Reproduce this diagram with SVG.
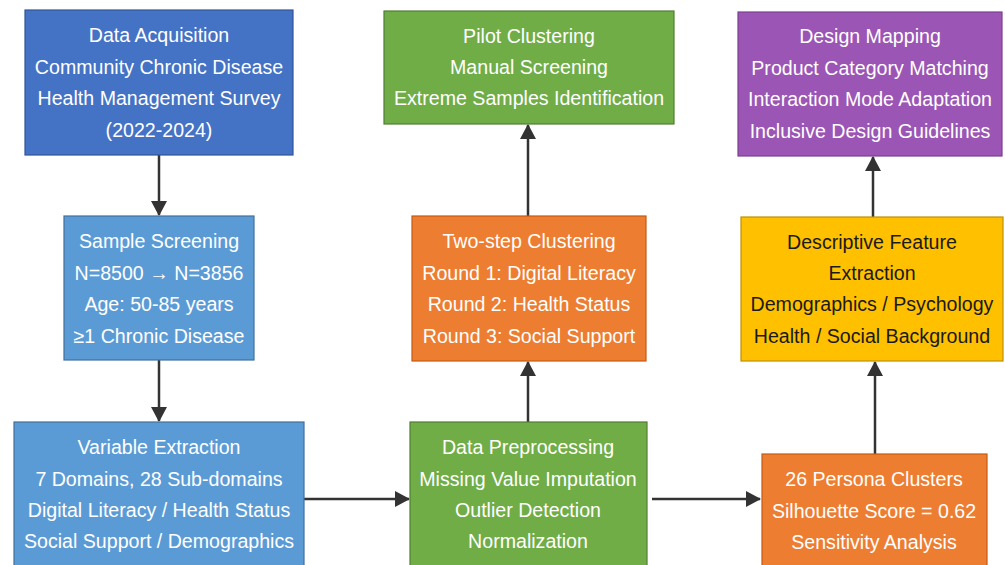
<svg xmlns="http://www.w3.org/2000/svg" width="1005" height="565" viewBox="0 0 1005 565">
  <style>
    .box { stroke-width: 1.2; }
    .t { font-family: "Liberation Sans", Arial, sans-serif; font-size: 19.6px; text-anchor: middle; fill: #ffffff; }
    .dark { fill: #1a1a1a; }
    .edge { stroke: #333333; stroke-width: 2.5; fill: none; marker-end: url(#arrow); }
  </style>
  <defs>
    <marker id="arrow" viewBox="0 0 15 16" refX="14" refY="8" markerWidth="15" markerHeight="16" markerUnits="userSpaceOnUse" orient="auto">
      <path d="M0,0 L15,8 L0,16 Z" fill="#333333"/>
    </marker>
  </defs>
  <rect width="1005" height="565" fill="#ffffff"/>

  <g id="connectors">
    <line class="edge" x1="159" y1="155" x2="159" y2="215"/>
    <line class="edge" x1="159" y1="360" x2="159" y2="421"/>
    <line class="edge" x1="304" y1="499" x2="409" y2="499"/>
    <line class="edge" x1="528" y1="422" x2="528" y2="362"/>
    <line class="edge" x1="528" y1="216" x2="528" y2="125"/>
    <line class="edge" x1="652" y1="499" x2="760" y2="499"/>
    <line class="edge" x1="875" y1="454" x2="875" y2="362"/>
    <line class="edge" x1="873" y1="217" x2="873" y2="157"/>
  </g>

  <g id="data-acquisition">
    <rect class="box" x="25" y="10" width="268" height="145" fill="#4472C4" stroke="#2F5597"/>
    <text class="t" x="159" y="42">Data Acquisition</text>
    <text class="t" x="159" y="74">Community Chronic Disease</text>
    <text class="t" x="159" y="105">Health Management Survey</text>
    <text class="t" x="159" y="137">(2022-2024)</text>
  </g>

  <g id="sample-screening">
    <rect class="box" x="64" y="216" width="190" height="144" fill="#5B9BD5" stroke="#41719C"/>
    <text class="t" x="159" y="248">Sample Screening</text>
    <text class="t" x="159" y="280">N=8500 → N=3856</text>
    <text class="t" x="159" y="311">Age: 50-85 years</text>
    <text class="t" x="159" y="343">≥1 Chronic Disease</text>
  </g>

  <g id="variable-extraction">
    <rect class="box" x="14" y="422" width="290" height="150" fill="#5B9BD5" stroke="#41719C"/>
    <text class="t" x="159" y="454">Variable Extraction</text>
    <text class="t" x="159" y="486">7 Domains, 28 Sub-domains</text>
    <text class="t" x="159" y="517">Digital Literacy / Health Status</text>
    <text class="t" x="159" y="548">Social Support / Demographics</text>
  </g>

  <g id="data-preprocessing">
    <rect class="box" x="410" y="422" width="237" height="150" fill="#70AD47" stroke="#507E32"/>
    <text class="t" x="528" y="454">Data Preprocessing</text>
    <text class="t" x="528" y="486">Missing Value Imputation</text>
    <text class="t" x="528" y="517">Outlier Detection</text>
    <text class="t" x="528" y="548">Normalization</text>
  </g>

  <g id="two-step-clustering">
    <rect class="box" x="412" y="216" width="234" height="145" fill="#ED7D31" stroke="#C55A11"/>
    <text class="t" x="529" y="248">Two-step Clustering</text>
    <text class="t" x="529" y="280">Round 1: Digital Literacy</text>
    <text class="t" x="529" y="311">Round 2: Health Status</text>
    <text class="t" x="529" y="343">Round 3: Social Support</text>
  </g>

  <g id="pilot-clustering">
    <rect class="box" x="384" y="11" width="290" height="113" fill="#70AD47" stroke="#507E32"/>
    <text class="t" x="529" y="43">Pilot Clustering</text>
    <text class="t" x="529" y="74">Manual Screening</text>
    <text class="t" x="529" y="105">Extreme Samples Identification</text>
  </g>

  <g id="persona-clusters">
    <rect class="box" x="762" y="454" width="225" height="118" fill="#ED7D31" stroke="#C55A11"/>
    <text class="t" x="874" y="486">26 Persona Clusters</text>
    <text class="t" x="874" y="518">Silhouette Score = 0.62</text>
    <text class="t" x="874" y="549">Sensitivity Analysis</text>
  </g>

  <g id="descriptive-feature-extraction">
    <rect class="box" x="741" y="217" width="262" height="144" fill="#FFC000" stroke="#BF9000"/>
    <text class="t dark" x="872" y="249">Descriptive Feature</text>
    <text class="t dark" x="872" y="280">Extraction</text>
    <text class="t dark" x="872" y="311">Demographics / Psychology</text>
    <text class="t dark" x="872" y="343">Health / Social Background</text>
  </g>

  <g id="design-mapping">
    <rect class="box" x="738" y="12" width="264" height="144" fill="#9B55B5" stroke="#7A3E92"/>
    <text class="t" x="870" y="43">Design Mapping</text>
    <text class="t" x="870" y="75">Product Category Matching</text>
    <text class="t" x="870" y="106">Interaction Mode Adaptation</text>
    <text class="t" x="870" y="138">Inclusive Design Guidelines</text>
  </g>
</svg>
